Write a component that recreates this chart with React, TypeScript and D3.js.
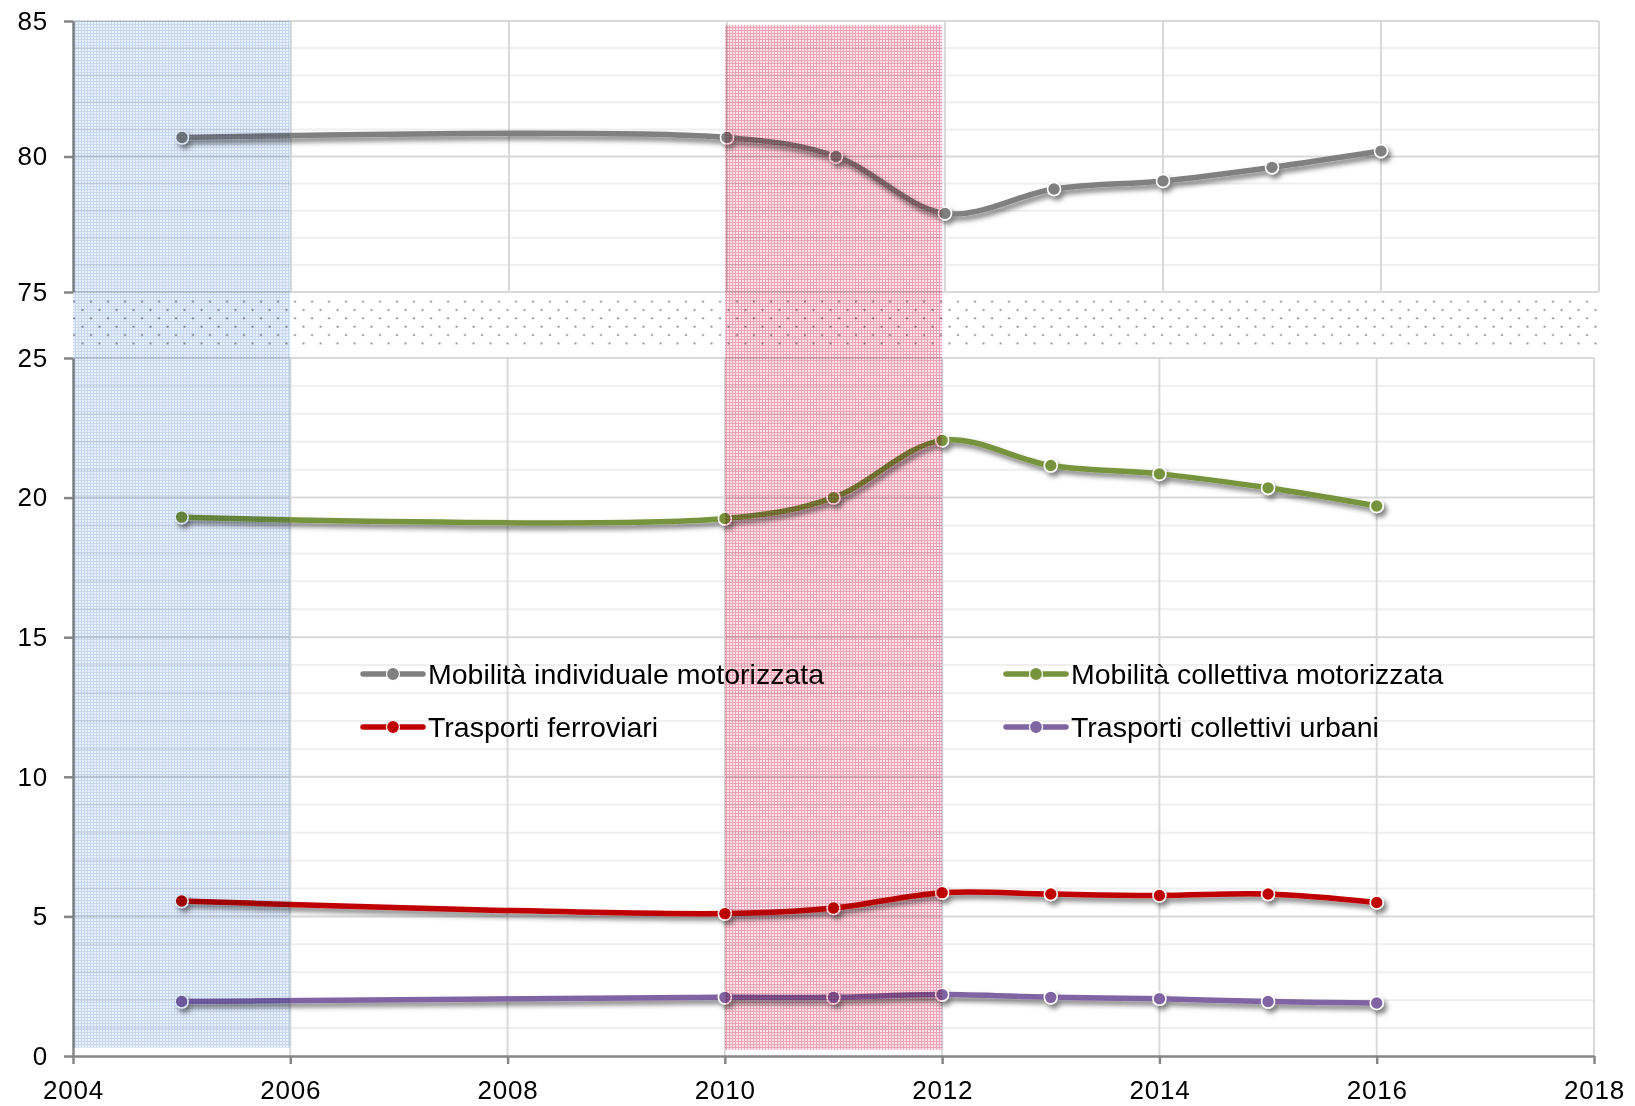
import React, {useEffect, useRef} from "react";
import * as d3 from "d3";

// anni con dato
const years: number[] = [2005, 2010, 2011, 2012, 2013, 2014, 2015, 2016];
const individuale: number[] = [80.7, 80.7, 80.0, 77.9, 78.8, 79.1, 79.6, 80.2];
const collettiva: number[] = [19.3, 19.25, 20.0, 22.05, 21.15, 20.85, 20.35, 19.7];
const ferroviari: number[] = [5.55, 5.1, 5.3, 5.85, 5.8, 5.75, 5.8, 5.5];
const urbani: number[] = [1.95, 2.1, 2.1, 2.2, 2.1, 2.05, 1.95, 1.9];

const xTicks: number[] = [2004, 2006, 2008, 2010, 2012, 2014, 2016, 2018];
const yTicksTop: number[] = [75, 80, 85];
const yTicksBottom: number[] = [0, 5, 10, 15, 20, 25];

const blueBand: number[] = [2004, 2006];
const pinkBand: number[] = [2010, 2012];

interface ISeries {
  name: string;
  values: number[];
  color: string;
  panel: "top" | "bottom";
}

const series: ISeries[] = [
  {name: "Mobilità individuale motorizzata", values: individuale, color: "#808080", panel: "top"},
  {name: "Mobilità collettiva motorizzata", values: collettiva, color: "#77933c", panel: "bottom"},
  {name: "Trasporti ferroviari", values: ferroviari, color: "#c00000", panel: "bottom"},
  {name: "Trasporti collettivi urbani", values: urbani, color: "#8064a2", panel: "bottom"},
];

const FONT = "'Liberation Sans', Arial, Helvetica, sans-serif";
const AxisColor = "#868686";
const GridMajor = "#d9d9d9";
const GridMinor = "#efefef";

export default function App(): React.ReactElement {
  const svgRef = useRef<SVGSVGElement>(null);

  const width = 1635;
  const height = 1106;

  useEffect(() => {
    if (svgRef.current === null) return;
    const svg = d3.select(svgRef.current);
    svg.selectAll("*").remove();

    // two stacked panels, like the two overlaid excel charts
    const xTop = d3.scaleLinear().domain([2004, 2018]).range([73, 1599]);
    const yTop = d3.scaleLinear().domain([75, 85]).range([292, 21]);
    const xBot = d3.scaleLinear().domain([2004, 2018]).range([73, 1594]);
    const yBot = d3.scaleLinear().domain([0, 25]).range([1056, 358]);

    const defs = svg.append("defs");

    const blue = defs.append("pattern").attr("id", "blueGrid")
      .attr("patternUnits", "userSpaceOnUse").attr("width", 3).attr("height", 3);
    blue.append("rect").attr("width", 3).attr("height", 3).attr("fill", "#e9f0fa");
    blue.append("rect").attr("width", 3).attr("height", 1).attr("fill", "#c6d8f0");
    blue.append("rect").attr("y", 1).attr("width", 1).attr("height", 2).attr("fill", "#c6d8f0");

    const pink = defs.append("pattern").attr("id", "pinkGrid")
      .attr("patternUnits", "userSpaceOnUse").attr("width", 3).attr("height", 3);
    pink.append("rect").attr("width", 3).attr("height", 3).attr("fill", "#fce4ea");
    pink.append("rect").attr("width", 3).attr("height", 1).attr("fill", "#eca2b7");
    pink.append("rect").attr("y", 1).attr("width", 1).attr("height", 2).attr("fill", "#eca2b7");

    const dots = defs.append("pattern").attr("id", "breakDots")
      .attr("patternUnits", "userSpaceOnUse")
      .attr("x", 69.75).attr("y", 297.5)
      .attr("width", 17).attr("height", 16.67);
    dots.append("circle").attr("cx", 4.25).attr("cy", 4.17).attr("r", 1.1).attr("fill", "#7f7f7f");
    dots.append("circle").attr("cx", 12.75).attr("cy", 12.5).attr("r", 1.1).attr("fill", "#7f7f7f");

    const shadow = defs.append("filter").attr("id", "shadow")
      .attr("x", "-10%").attr("y", "-50%").attr("width", "120%").attr("height", "200%");
    shadow.append("feDropShadow").attr("dx", 3).attr("dy", 4).attr("stdDeviation", 2.8)
      .attr("flood-color", "#000").attr("flood-opacity", 0.5);

    // gridlines
    const grid = svg.append("g").attr("class", "grid");
    const minorTop = d3.range(76, 85).filter(v => v % 5 !== 0);
    const minorBot = d3.range(1, 25).filter(v => v % 5 !== 0);
    grid.selectAll(".minorTop").data(minorTop).join("line")
      .attr("x1", xTop(2004)).attr("x2", xTop(2018))
      .attr("y1", d => yTop(d)).attr("y2", d => yTop(d))
      .attr("stroke", GridMinor).attr("stroke-width", 2);
    grid.selectAll(".minorBot").data(minorBot).join("line")
      .attr("x1", xBot(2004)).attr("x2", xBot(2018))
      .attr("y1", d => yBot(d)).attr("y2", d => yBot(d))
      .attr("stroke", GridMinor).attr("stroke-width", 2);
    grid.selectAll(".majorTop").data(yTicksTop).join("line")
      .attr("x1", xTop(2004)).attr("x2", xTop(2018))
      .attr("y1", d => yTop(d)).attr("y2", d => yTop(d))
      .attr("stroke", GridMajor).attr("stroke-width", 2);
    grid.selectAll(".majorBot").data(yTicksBottom.filter(v => v > 0)).join("line")
      .attr("x1", xBot(2004)).attr("x2", xBot(2018))
      .attr("y1", d => yBot(d)).attr("y2", d => yBot(d))
      .attr("stroke", GridMajor).attr("stroke-width", 2);
    grid.selectAll(".vTop").data(xTicks.slice(1)).join("line")
      .attr("x1", d => xTop(d)).attr("x2", d => xTop(d))
      .attr("y1", yTop(85)).attr("y2", yTop(75))
      .attr("stroke", GridMajor).attr("stroke-width", 2);
    grid.selectAll(".vBot").data(xTicks.slice(1)).join("line")
      .attr("x1", d => xBot(d)).attr("x2", d => xBot(d))
      .attr("y1", yBot(25)).attr("y2", yBot(0))
      .attr("stroke", GridMajor).attr("stroke-width", 2);

    // axis break
    svg.append("rect")
      .attr("x", xTop(2004)).attr("width", xTop(2018) - xTop(2004))
      .attr("y", yTop(75) + 3).attr("height", yBot(25) - yTop(75) - 11)
      .attr("fill", "url(#breakDots)");

    // axes
    const styleAxis = (g: d3.Selection<SVGGElement, unknown, null, undefined>) => {
      g.attr("font-family", FONT).attr("font-size", 26);
      g.select(".domain").attr("stroke", AxisColor).attr("stroke-width", 2.5);
      g.selectAll(".tick line").attr("stroke", AxisColor).attr("stroke-width", 2.5);
      g.selectAll(".tick text").attr("fill", "#000").attr("letter-spacing", 0.8);
    };

    const yAxisTop = svg.append("g").attr("transform", `translate(${xTop(2004)},0)`);
    yAxisTop.call(d3.axisLeft(yTop).tickValues(yTicksTop).tickSize(9).tickSizeOuter(0).tickPadding(16));
    styleAxis(yAxisTop);

    const yAxisBot = svg.append("g").attr("transform", `translate(${xBot(2004)},0)`);
    yAxisBot.call(d3.axisLeft(yBot).tickValues(yTicksBottom).tickSize(9).tickSizeOuter(0).tickPadding(16));
    styleAxis(yAxisBot);

    const xAxis = svg.append("g").attr("transform", `translate(0,${yBot(0)})`);
    xAxis.call(d3.axisBottom(xBot).tickValues(xTicks).tickFormat(d3.format("d"))
      .tickSize(8).tickSizeOuter(0).tickPadding(17));
    styleAxis(xAxis);

    // series
    series.forEach(s => {
      const xs = s.panel === "top" ? xTop : xBot;
      const ys = s.panel === "top" ? yTop : yBot;
      const pts: [number, number][] = years.map((yr, i) => [xs(yr), ys(s.values[i])]);
      const line = d3.line().curve(d3.curveCatmullRom.alpha(0.5));
      const g = svg.append("g").attr("class", "series").attr("filter", "url(#shadow)");
      g.append("path").attr("d", line(pts))
        .attr("fill", "none").attr("stroke", s.color).attr("stroke-width", 5.5)
        .attr("stroke-linejoin", "round").attr("stroke-linecap", "round");
      g.selectAll("circle").data(pts).join("circle")
        .attr("cx", d => d[0]).attr("cy", d => d[1]).attr("r", 6.5)
        .attr("fill", s.color).attr("stroke", "#fff").attr("stroke-width", 1.6);
    });

    // highlighted periods, blended over the series
    const bands = svg.append("g").attr("class", "bands").style("mix-blend-mode", "multiply");
    bands.append("rect")
      .attr("x", xBot(blueBand[0])).attr("width", xBot(blueBand[1]) - xBot(blueBand[0]))
      .attr("y", yTop(85)).attr("height", yBot(0.3) - yTop(85))
      .attr("fill", "url(#blueGrid)");
    bands.append("rect")
      .attr("x", xBot(pinkBand[0])).attr("width", xBot(pinkBand[1]) - xBot(pinkBand[0]))
      .attr("y", yTop(84.85)).attr("height", yBot(0.22) - yTop(84.85))
      .attr("fill", "url(#pinkGrid)");

    // legend
    const legendPos = [[363, 674], [1006, 674], [363, 727], [1006, 727]];
    const legend = svg.append("g").attr("class", "legend");
    series.forEach((s, i) => {
      const [lx, ly] = legendPos[i];
      const item = legend.append("g").attr("transform", `translate(${lx},${ly})`);
      item.append("line").attr("x1", 0).attr("x2", 60).attr("y1", 0).attr("y2", 0)
        .attr("stroke", s.color).attr("stroke-width", 5.5).attr("stroke-linecap", "round");
      item.append("circle").attr("cx", 30).attr("cy", 0).attr("r", 6.5)
        .attr("fill", s.color).attr("stroke", "#fff").attr("stroke-width", 1.2);
      item.append("text").attr("x", 65).attr("y", 0).attr("dy", "0.36em")
        .attr("font-family", FONT).attr("font-size", 28.5).attr("fill", "#000")
        .text(s.name);
    });
  }, []);

  return (
    <svg ref={svgRef} width={width} height={height}
         style={{position: "absolute", left: 0, top: 0, background: "#fff"}}></svg>
  );
}
